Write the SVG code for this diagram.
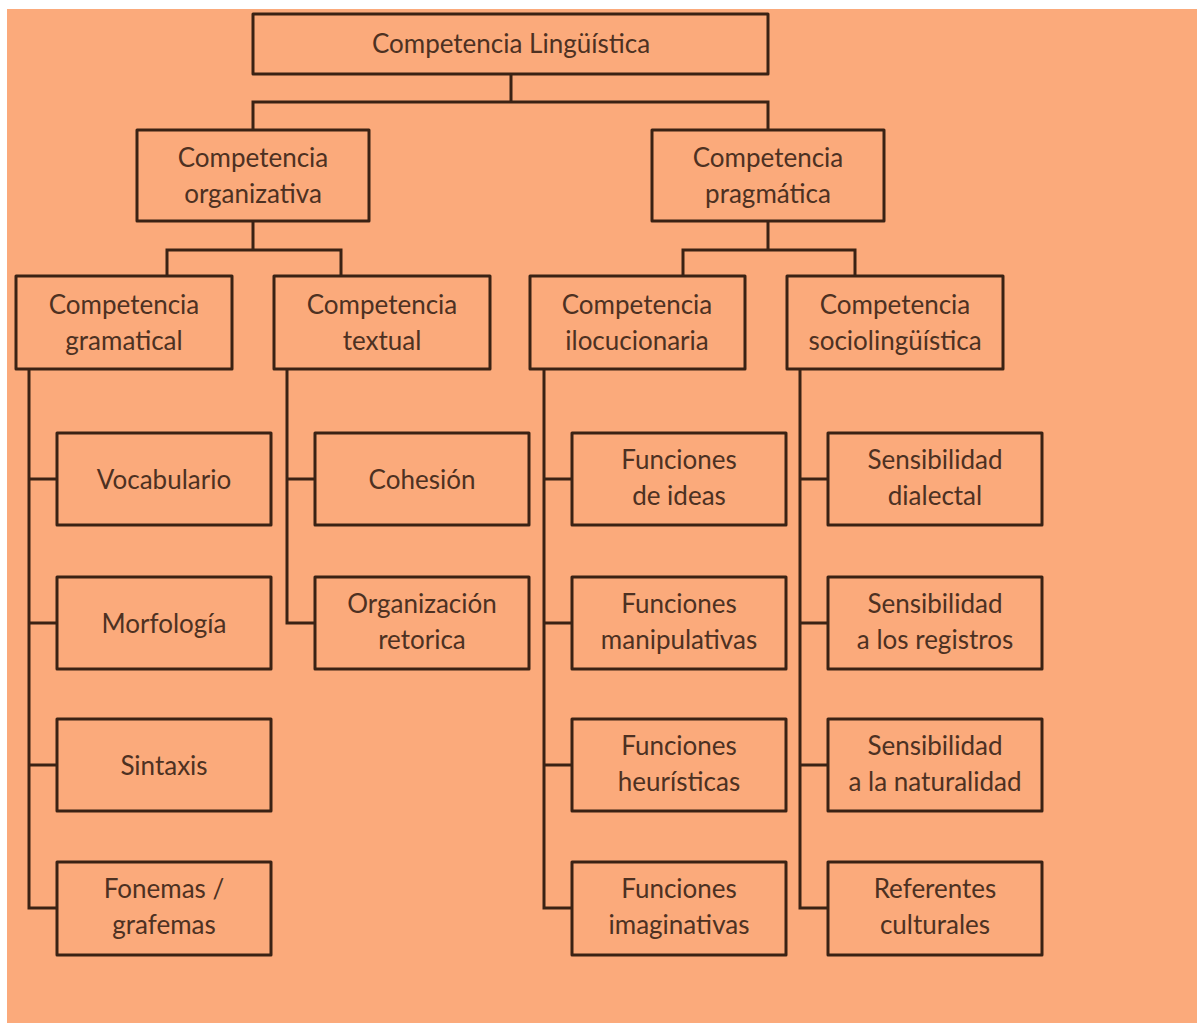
<svg xmlns="http://www.w3.org/2000/svg" width="1197" height="1025" viewBox="0 0 1197 1025">
  <style>
    .box { fill: #fbaa7b; stroke: #3a2214; stroke-width: 3; stroke-linejoin: round; }
    .wire { fill: none; stroke: #3a2214; stroke-width: 3; stroke-linecap: square; }
    .lbl { font-family: Lato, "Open Sans", "Liberation Sans", sans-serif; font-size: 26px; fill: #4d3122; text-anchor: middle; }
  </style>

  <!-- page -->
  <rect x="0" y="0" width="1197" height="1025" fill="#ffffff"/>
  <rect x="7" y="9" width="1190" height="1014" fill="#fbaa7b"/>

  <!-- connectors -->
  <g id="connectors" class="wire">
    <path d="M511,74 V102 M253,102 H768 M253,102 V130 M768,102 V130"/>
    <path d="M253,221 V250 M167,250 H341 M167,250 V276 M341,250 V276"/>
    <path d="M768,221 V250 M683,250 H855 M683,250 V276 M855,250 V276"/>
    <path d="M29,369 V908 H57 M29,479 H57 M29,623 H57 M29,765 H57"/>
    <path d="M287,369 V623 H315 M287,479 H315"/>
    <path d="M544,369 V908 H572 M544,479 H572 M544,623 H572 M544,765 H572"/>
    <path d="M800,369 V908 H828 M800,479 H828 M800,623 H828 M800,765 H828"/>
  </g>

  <!-- level 0 -->
  <g id="n-linguistica">
    <rect class="box" x="253" y="14" width="515" height="60"/>
    <text class="lbl" x="511" y="53">Competencia Lingüística</text>
  </g>

  <!-- level 1 -->
  <g id="n-organizativa">
    <rect class="box" x="137" y="130" width="232" height="91"/>
    <text class="lbl" x="253" y="167">Competencia</text>
    <text class="lbl" x="253" y="203">organizativa</text>
  </g>
  <g id="n-pragmatica">
    <rect class="box" x="652" y="130" width="232" height="91"/>
    <text class="lbl" x="768" y="167">Competencia</text>
    <text class="lbl" x="768" y="203">pragmática</text>
  </g>

  <!-- level 2 -->
  <g id="n-gramatical">
    <rect class="box" x="16" y="276" width="216" height="93"/>
    <text class="lbl" x="124" y="314">Competencia</text>
    <text class="lbl" x="124" y="350">gramatical</text>
  </g>
  <g id="n-textual">
    <rect class="box" x="274" y="276" width="216" height="93"/>
    <text class="lbl" x="382" y="314">Competencia</text>
    <text class="lbl" x="382" y="350">textual</text>
  </g>
  <g id="n-ilocucionaria">
    <rect class="box" x="530" y="276" width="215" height="93"/>
    <text class="lbl" x="637" y="314">Competencia</text>
    <text class="lbl" x="637" y="350">ilocucionaria</text>
  </g>
  <g id="n-sociolinguistica">
    <rect class="box" x="787" y="276" width="216" height="93"/>
    <text class="lbl" x="895" y="314">Competencia</text>
    <text class="lbl" x="895" y="350">sociolingüística</text>
  </g>

  <!-- gramatical leaves -->
  <g id="n-vocabulario">
    <rect class="box" x="57" y="433" width="214" height="92"/>
    <text class="lbl" x="164" y="489">Vocabulario</text>
  </g>
  <g id="n-morfologia">
    <rect class="box" x="57" y="577" width="214" height="92"/>
    <text class="lbl" x="164" y="633">Morfología</text>
  </g>
  <g id="n-sintaxis">
    <rect class="box" x="57" y="719" width="214" height="92"/>
    <text class="lbl" x="164" y="775">Sintaxis</text>
  </g>
  <g id="n-fonemas">
    <rect class="box" x="57" y="862" width="214" height="93"/>
    <text class="lbl" x="164" y="898">Fonemas /</text>
    <text class="lbl" x="164" y="934">grafemas</text>
  </g>

  <!-- textual leaves -->
  <g id="n-cohesion">
    <rect class="box" x="315" y="433" width="214" height="92"/>
    <text class="lbl" x="422" y="489">Cohesión</text>
  </g>
  <g id="n-organizacion">
    <rect class="box" x="315" y="577" width="214" height="92"/>
    <text class="lbl" x="422" y="613">Organización</text>
    <text class="lbl" x="422" y="649">retorica</text>
  </g>

  <!-- ilocucionaria leaves -->
  <g id="n-ideas">
    <rect class="box" x="572" y="433" width="214" height="92"/>
    <text class="lbl" x="679" y="469">Funciones</text>
    <text class="lbl" x="679" y="505">de ideas</text>
  </g>
  <g id="n-manipulativas">
    <rect class="box" x="572" y="577" width="214" height="92"/>
    <text class="lbl" x="679" y="613">Funciones</text>
    <text class="lbl" x="679" y="649">manipulativas</text>
  </g>
  <g id="n-heuristicas">
    <rect class="box" x="572" y="719" width="214" height="92"/>
    <text class="lbl" x="679" y="755">Funciones</text>
    <text class="lbl" x="679" y="791">heurísticas</text>
  </g>
  <g id="n-imaginativas">
    <rect class="box" x="572" y="862" width="214" height="93"/>
    <text class="lbl" x="679" y="898">Funciones</text>
    <text class="lbl" x="679" y="934">imaginativas</text>
  </g>

  <!-- sociolingüística leaves -->
  <g id="n-dialectal">
    <rect class="box" x="828" y="433" width="214" height="92"/>
    <text class="lbl" x="935" y="469">Sensibilidad</text>
    <text class="lbl" x="935" y="505">dialectal</text>
  </g>
  <g id="n-registros">
    <rect class="box" x="828" y="577" width="214" height="92"/>
    <text class="lbl" x="935" y="613">Sensibilidad</text>
    <text class="lbl" x="935" y="649">a los registros</text>
  </g>
  <g id="n-naturalidad">
    <rect class="box" x="828" y="719" width="214" height="92"/>
    <text class="lbl" x="935" y="755">Sensibilidad</text>
    <text class="lbl" x="935" y="791">a la naturalidad</text>
  </g>
  <g id="n-referentes">
    <rect class="box" x="828" y="862" width="214" height="93"/>
    <text class="lbl" x="935" y="898">Referentes</text>
    <text class="lbl" x="935" y="934">culturales</text>
  </g>
</svg>
